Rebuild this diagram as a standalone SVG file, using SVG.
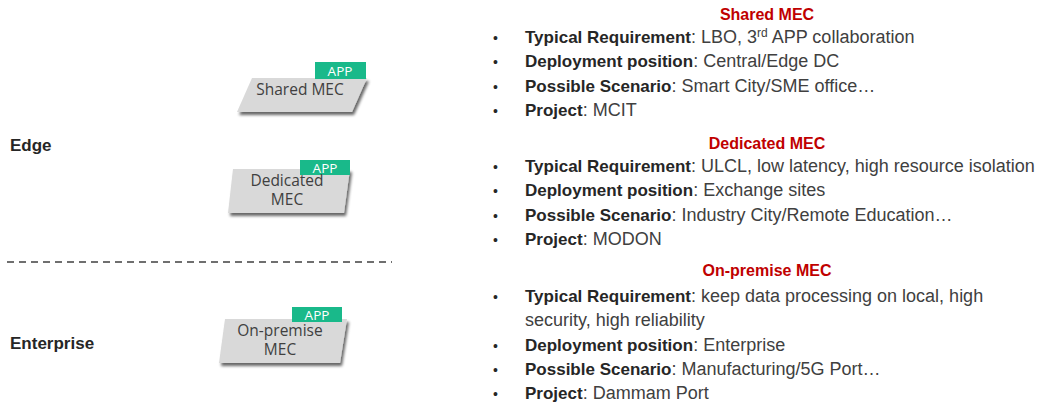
<svg xmlns="http://www.w3.org/2000/svg" width="1049" height="404" viewBox="0 0 1049 404">
<style>
.box{fill:#d9d9d9;filter:url(#sh)}
.app{fill:#19b98a}
.appt{font-family:"Open Sans",sans-serif;font-size:13.5px;fill:#ffffff;text-anchor:middle}
.nt{font-family:"Open Sans",sans-serif;font-size:15.5px;fill:#404040;text-anchor:middle}
.lbl{font-family:"Liberation Sans",Arial,sans-serif;font-size:17px;font-weight:bold;fill:#262626}
.hd{font-family:"Liberation Sans",Arial,sans-serif;font-size:16px;font-weight:bold;fill:#c00000;text-anchor:middle}
.tx{font-family:"Liberation Sans",Arial,sans-serif;font-size:18px;fill:#404040}
.b{font-weight:bold;fill:#262626;font-size:17px}
.bul{font-family:"Liberation Sans",Arial,sans-serif;font-size:14px;fill:#262626}
</style>
<defs>
<filter id="sh" x="-10%" y="-10%" width="130%" height="140%">
<feGaussianBlur in="SourceAlpha" stdDeviation="1.5"/>
<feOffset dx="2" dy="2.5" result="o"/>
<feComponentTransfer><feFuncA type="linear" slope="0.6"/></feComponentTransfer>
<feMerge><feMergeNode/><feMergeNode in="SourceGraphic"/></feMerge>
</filter>
</defs>
<rect width="1049" height="404" fill="#ffffff"/>
<text class="lbl" x="10" y="151">Edge</text>
<text class="lbl" x="10" y="349">Enterprise</text>
<g id="connectors">
<line x1="7" y1="262" x2="392" y2="262" stroke="#404040" stroke-width="1.3" stroke-dasharray="7,5"/>
</g>
<g id="shared-mec">
<polygon class="box" points="252,78 367,78 352,112 237,112"/>
<rect class="app" x="315" y="62" width="51" height="17"/>
<text class="appt" x="340" y="76">APP</text>
<text class="nt" x="300" y="95">Shared MEC</text>
</g>
<g id="dedicated-mec">
<polygon class="box" points="233,169 350,169 344,213 228,213"/>
<rect class="app" x="300" y="160" width="50" height="15"/>
<text class="appt" x="325" y="173">APP</text>
<text class="nt" x="287" y="186">Dedicated</text>
<text class="nt" x="287" y="205">MEC</text>
</g>
<g id="onpremise-mec">
<polygon class="box" points="225,319 347,319 340,363 219,363"/>
<rect class="app" x="292" y="307" width="50" height="15"/>
<text class="appt" x="317" y="320">APP</text>
<text class="nt" x="280" y="336">On-premise</text>
<text class="nt" x="280" y="355">MEC</text>
</g>
<g id="shared-info">
<text class="hd" x="767" y="20">Shared MEC</text>
<text class="bul" x="493" y="43">•</text>
<text class="tx" x="525" y="43"><tspan class="b">Typical Requirement</tspan>: LBO, 3<tspan font-size="12" dy="-6">rd</tspan><tspan dy="6"> APP collaboration</tspan></text>
<text class="bul" x="493" y="67">•</text>
<text class="tx" x="525" y="67"><tspan class="b">Deployment position</tspan>: Central/Edge DC</text>
<text class="bul" x="493" y="92">•</text>
<text class="tx" x="525" y="92"><tspan class="b">Possible Scenario</tspan>: Smart City/SME office…</text>
<text class="bul" x="493" y="116">•</text>
<text class="tx" x="525" y="116"><tspan class="b">Project</tspan>: MCIT</text>
</g>
<g id="dedicated-info">
<text class="hd" x="767" y="149">Dedicated MEC</text>
<text class="bul" x="493" y="172">•</text>
<text class="tx" x="525" y="172"><tspan class="b">Typical Requirement</tspan>: ULCL, low latency, high resource isolation</text>
<text class="bul" x="493" y="196">•</text>
<text class="tx" x="525" y="196"><tspan class="b">Deployment position</tspan>: Exchange sites</text>
<text class="bul" x="493" y="221">•</text>
<text class="tx" x="525" y="221"><tspan class="b">Possible Scenario</tspan>: Industry City/Remote Education…</text>
<text class="bul" x="493" y="245">•</text>
<text class="tx" x="525" y="245"><tspan class="b">Project</tspan>: MODON</text>
</g>
<g id="onpremise-info">
<text class="hd" x="767" y="276">On-premise MEC</text>
<text class="bul" x="493" y="302">•</text>
<text class="tx" x="525" y="302"><tspan class="b">Typical Requirement</tspan>: keep data processing on local, high</text>
<text class="tx" x="525" y="326">security,  high reliability</text>
<text class="bul" x="493" y="351">•</text>
<text class="tx" x="525" y="351"><tspan class="b">Deployment position</tspan>: Enterprise</text>
<text class="bul" x="493" y="375">•</text>
<text class="tx" x="525" y="375"><tspan class="b">Possible Scenario</tspan>: Manufacturing/5G Port…</text>
<text class="bul" x="493" y="399">•</text>
<text class="tx" x="525" y="399"><tspan class="b">Project</tspan>: Dammam Port</text>
</g>
</svg>
